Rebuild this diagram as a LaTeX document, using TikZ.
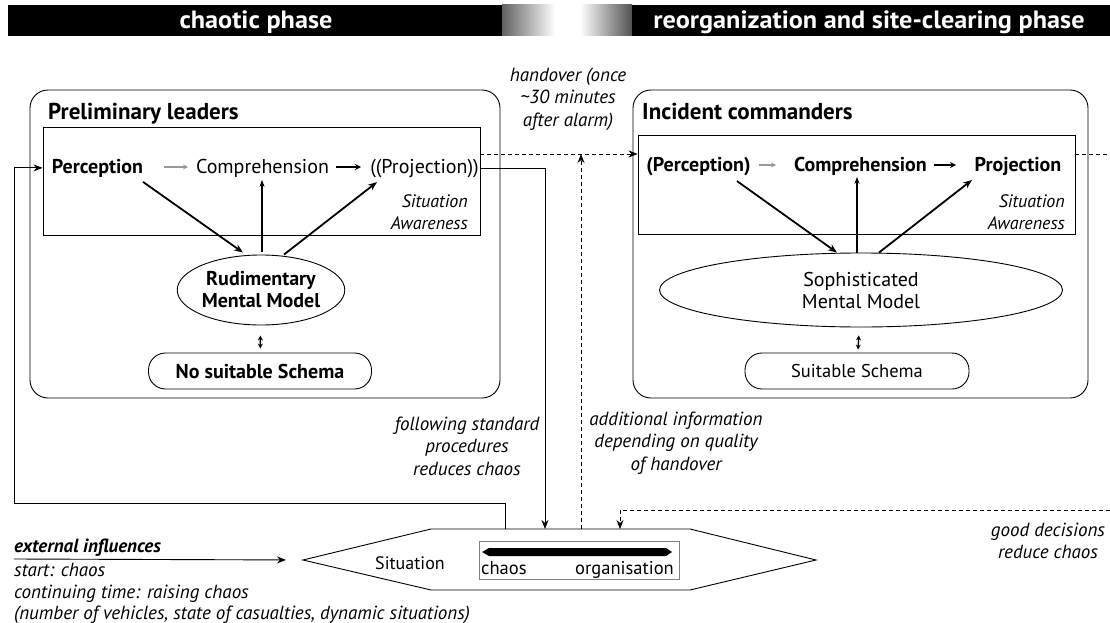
\documentclass[tikz,border=0pt]{standalone}
\usepackage{fontspec}
\setmainfont{PT Sans}
\newfontfamily\headfont{PT Sans}[FakeStretch=1.05]
\usetikzlibrary{arrows.meta,shapes.geometric,calc}

\begin{document}
\begin{tikzpicture}[x=1pt,y=-1pt,
  txt/.style={font=\fontsize{20}{22}\selectfont, inner sep=0pt},
  btxt/.style={font=\fontsize{20}{22}\selectfont\bfseries, inner sep=0pt},
  itxt/.style={font=\fontsize{19}{22.5}\selectfont\itshape, inner sep=0pt, align=center},
  satxt/.style={font=\fontsize{18}{21.5}\selectfont\itshape, inner sep=0pt, align=right, anchor=base east},
  ttltxt/.style={font=\fontsize{23}{26}\selectfont\bfseries, inner sep=0pt, anchor=base west},
  headtxt/.style={font=\fontsize{25}{28}\headfont\bfseries, text=white, inner sep=0pt},
  outerbox/.style={draw, line width=0.9pt, rounded corners=18pt, inner sep=0pt},
  sabox/.style={draw, line width=0.9pt, inner sep=0pt},
  mmodel/.style={draw, ellipse, line width=0.9pt, inner sep=0pt, align=center},
  schemabox/.style={draw, rounded corners=17pt, line width=0.9pt, inner sep=0pt},
  conn/.style={line width=0.9pt, -{Stealth[length=9pt,width=7pt]}},
  saarrow/.style={line width=1.8pt, -{Stealth[length=9pt,width=7pt]}},
  uparrow/.style={line width=1.3pt, -{Stealth[length=7pt,width=5pt]}},
  rowgray/.style={draw=black!40, line width=1.5pt, -{Stealth[length=5pt,width=5pt]}},
  rowblack/.style={line width=1.8pt, -{Stealth[length=6pt,width=6pt]}},
  dbl/.style={line width=1.3pt, {Stealth[length=5pt,width=5pt]}-{Stealth[length=5pt,width=5pt]}},
  dashline/.style={line width=0.9pt, dash pattern=on 4pt off 3pt},
  dasharrow/.style={dashline, -{Stealth[length=9pt,width=7pt]}},
]
\useasboundingbox (0,0) rectangle (1110,623);

% phase header
\fill[black] (8,5) rectangle (502,36);
\shade[left color=black!62, right color=white] (502,5) rectangle (555,36);
\shade[left color=white, right color=black!68] (580,5) rectangle (632,36);
\fill[black] (632,5) rectangle (1110,36);
\node[headtxt, anchor=base] (h1) at (256,29) {chaotic phase};
\node[headtxt, anchor=base] (h2) at (869,29) {reorganization and site-clearing phase};

% preliminary leaders
\node[outerbox, minimum width=470pt, minimum height=308pt] (lbox) at (265,244) {};
\node[ttltxt] (ltitle) at (48,120) {Preliminary leaders};
\node[sabox, minimum width=437pt, minimum height=108pt] (lsa) at (261.5,181) {};
\node[btxt, anchor=base] (lper) at (97.5,173) {Perception};
\node[txt, anchor=base] (lcomp) at (262.5,173) {Comprehension};
\node[txt, anchor=base] (lproj) at (424.5,173) {((Projection))};
\node[satxt] (lsalab) at (468,229) {Situation\\Awareness};
\node[mmodel, btxt, align=center, minimum width=146pt, minimum height=70pt] (lmm) at (261,290) {Rudimentary\\Mental Model};
\node[schemabox, btxt, minimum width=223pt, minimum height=36pt] (lsch) at (260,371) {No suitable Schema};

\draw[rowgray] ($(lper.base)+(66.5,-6)$) -- ($(lcomp.base)+(-74.5,-6)$);
\draw[rowblack] ($(lcomp.base)+(73.5,-6)$) -- ($(lproj.base)+(-63.5,-6)$);
\draw[saarrow] ($(lper)+(45.5,14)$) -- ($(lmm.north)+(-18,-2)$);
\draw[uparrow] ($(lmm.north)+(1,-3)$) -- ($(lcomp)+(-0.5,12)$);
\draw[saarrow] ($(lmm.north)+(23,0)$) -- ($(lproj)+(-47.5,14)$);
\draw[dbl, shorten <=10pt, shorten >=4pt] (lmm) -- (lsch);

% incident commanders
\node[outerbox, minimum width=455pt, minimum height=308pt] (rbox) at (860.5,244) {};
\node[ttltxt] (rtitle) at (642,120) {Incident commanders};
\node[sabox, minimum width=437pt, minimum height=99pt] (rsa) at (856.5,184.5) {};
\node[btxt, anchor=base] (rper) at (698.5,171) {(Perception)};
\node[btxt, anchor=base] (rcomp) at (860.5,171) {Comprehension};
\node[btxt, anchor=base] (rproj) at (1018,171) {Projection};
\node[satxt] (rsalab) at (1065,229) {Situation\\Awareness};
\node[mmodel, txt, align=center, minimum width=403pt, minimum height=74pt] (rmm) at (861,290) {Sophisticated\\Mental Model};
\node[schemabox, txt, font=\fontsize{18.5}{22}\selectfont, minimum width=224pt, minimum height=36pt] (rsch) at (857,371) {Suitable Schema};

\draw[rowgray] ($(rper.base)+(60.5,-6)$) -- ($(rcomp.base)+(-84.5,-6)$);
\draw[rowblack] ($(rcomp.base)+(73.5,-6)$) -- ($(rproj.base)+(-62,-6)$);
\draw[saarrow] ($(rper)+(38.5,15)$) -- ($(rmm.north)+(-24,0)$);
\draw[uparrow] ($(rmm.north)+(-4,0)$) -- ($(rcomp)+(-3.5,11)$);
\draw[saarrow] ($(rmm.north)+(18,0)$) -- ($(rproj)+(-46,14)$);
\draw[dbl, shorten <=8pt, shorten >=3pt] (rmm) -- (rsch);

% situation
\coordinate (sl) at (303,560);
\coordinate (stl) at (431,529);
\coordinate (str) at (690,529);
\coordinate (sr) at (816,560);
\coordinate (sbr) at (690,590);
\coordinate (sbl) at (431,590);
\draw[line width=0.9pt] (sl) -- (stl) -- (str) -- (sr) -- (sbr) -- (sbl) -- cycle;
\node[txt, font=\fontsize{18}{22}\selectfont] (sitlab) at (410,563) {Situation};
\node[draw=black!50, line width=0.8pt, minimum width=200pt, minimum height=38pt, inner sep=0pt] (scale) at (579,560) {};
\fill (482,552) -- (489,548) -- (666,548) -- (672,552) -- (666,556) -- (489,556) -- cycle;
\node[txt, font=\fontsize{18.5}{22}\selectfont, anchor=base west] (chaos) at (481,574) {chaos};
\node[txt, font=\fontsize{18.5}{22}\selectfont, anchor=base east] (orga) at (674,574) {organisation};

\coordinate (sfb) at (505,529);
\coordinate (sdown) at (545,529);
\coordinate (sup) at (581,529);
\coordinate (sgood) at (620,529);
\coordinate (fbl) at (14,503);
\coordinate (hy) at (560,154);
\coordinate (offr) at (1110,154);
\coordinate (offg) at (1110,510);
\coordinate (ext) at (14,559);

% connectors
\draw[conn] (lsa.east |- lproj.east) -| (sdown);
\draw[conn] (sfb) |- (fbl) |- (lsa.west |- lper.east);
\draw[dasharrow] (lsa.east |- hy) -- (rsa.west |- hy);
\draw[dashline] (rsa.east |- hy) -- (offr);
\draw[dasharrow] (sup) -- (sup |- hy);
\draw[dasharrow] (offg) -| (sgood);
\draw[conn, shorten >=17pt] (ext) -- (sl);

% annotations
\node[itxt] (handover) at (568,99) {handover (once\\\textasciitilde30 minutes\\after alarm)};
\node[itxt] (stdproc) at (467,446) {following standard\\procedures\\reduces chaos};
\node[itxt] (addinfo) at (676,443) {additional information\\depending on quality\\of handover};
\node[itxt] (gooddec) at (1048,541) {good decisions\\reduce chaos};
\node[txt, font=\fontsize{19}{22}\selectfont\bfseries\itshape, anchor=base west] (extlab) at (14,552) {external influences};
\node[txt, font=\fontsize{19}{22}\selectfont\itshape, anchor=base west] (ext1) at (14,576) {start: chaos};
\node[txt, font=\fontsize{19}{22}\selectfont\itshape, anchor=base west] (ext2) at (14,598) {continuing time: raising chaos};
\node[txt, font=\fontsize{19}{22}\selectfont\itshape, anchor=base west] (ext3) at (14,619) {(number of vehicles, state of casualties, dynamic situations)};
\end{tikzpicture}
\end{document}
